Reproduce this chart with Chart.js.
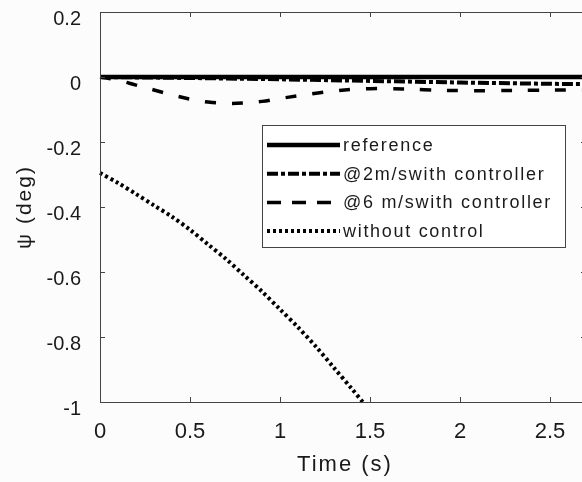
<!DOCTYPE html>
<html>
<head>
<meta charset="utf-8">
<script src="https://cdn.jsdelivr.net/npm/chart.js@4/dist/chart.umd.min.js"></script>
<style>
  html, body { margin: 0; padding: 0; background: #fcfcfc; overflow: hidden; }
  #wrap { width: 582px; height: 482px; overflow: hidden; }
  #box { width: 592px; height: 482px; }
</style>
</head>
<body>
<div id="wrap"><div id="box"><canvas id="psi"></canvas></div></div>
<script>
// time (s) and psi (deg)
const timeRef = [0, 2.7]
const psiRef = [0, 0]

const time2 = [0, 0.5, 1.0, 1.5, 2.0, 2.5, 2.7]
const psi2 = [0, -0.003, -0.007, -0.012, -0.017, -0.021, -0.022]

const time6 = [0, 0.1, 0.2, 0.3, 0.4, 0.5, 0.6, 0.7, 0.8, 0.9, 1.0, 1.1, 1.2, 1.3, 1.4, 1.5, 1.6, 1.8, 2.0, 2.2, 2.4, 2.6, 2.7]
const psi6 = [0, -0.01, -0.025, -0.04, -0.055, -0.068, -0.077, -0.081, -0.08, -0.075, -0.066, -0.058, -0.05, -0.043, -0.038, -0.036, -0.036, -0.039, -0.042, -0.042, -0.041, -0.04, -0.04]

const timeNo = [0, 0.1, 0.2, 0.3, 0.4, 0.5, 0.6, 0.7, 0.8, 0.9, 1.0, 1.1, 1.2, 1.3, 1.4, 1.46]
const psiNo = [-0.295, -0.326, -0.36, -0.395, -0.43, -0.47, -0.515, -0.56, -0.61, -0.66, -0.715, -0.77, -0.83, -0.895, -0.96, -1.0]

const xTicks = [0, 0.5, 1, 1.5, 2, 2.5]
const yTicks = [0.2, 0, -0.2, -0.4, -0.6, -0.8, -1]

const xTitle = 'Time (s)'
const yTitle = 'ψ (deg)'

const pts = (xs, ys) => xs.map((x, i) => ({ x: x, y: ys[i] }))

const FONT = '"Liberation Sans", Arial, sans-serif'
const INK = '#1a1a1a'
const AXIS = '#444'

// matlab style box + inward ticks
const frame = {
  id: 'frame',
  afterDatasetsDraw(chart) {
    const { ctx, chartArea: a, scales } = chart
    ctx.save()
    ctx.strokeStyle = AXIS
    ctx.lineWidth = 1
    ctx.strokeRect(a.left + 0.5, a.top + 0.5, a.right - a.left, a.bottom - a.top)
    ctx.beginPath()
    xTicks.forEach(v => {
      const px = Math.round(scales.x.getPixelForValue(v)) + 0.5
      ctx.moveTo(px, a.bottom); ctx.lineTo(px, a.bottom - 5)
      ctx.moveTo(px, a.top); ctx.lineTo(px, a.top + 5)
    })
    yTicks.forEach(v => {
      const py = Math.round(scales.y.getPixelForValue(v)) + 0.5
      ctx.moveTo(a.left, py); ctx.lineTo(a.left + 5, py)
      ctx.moveTo(a.right, py); ctx.lineTo(a.right - 5, py)
    })
    ctx.stroke()
    ctx.restore()
  }
}

// axis titles, drawn by hand for the wide letter spacing
const titles = {
  id: 'titles',
  afterDraw(chart) {
    const { ctx, chartArea: a } = chart
    ctx.save()
    ctx.fillStyle = INK
    ctx.textAlign = 'center'
    ctx.textBaseline = 'middle'
    ctx.letterSpacing = '2px'
    ctx.font = '22px ' + FONT
    ctx.fillText(xTitle, (a.left + 588) / 2 + 1, 465)
    ctx.font = '21px ' + FONT
    ctx.translate(25, (a.top + a.bottom) / 2)
    ctx.rotate(-Math.PI / 2)
    ctx.fillText(yTitle, 0, 0)
    ctx.restore()
  }
}

// legend box inside the axes
const boxLegend = {
  id: 'boxLegend',
  afterDraw(chart) {
    const ctx = chart.ctx
    const L = 262, T = 125, R = 565, B = 247
    ctx.save()
    ctx.fillStyle = '#fff'
    ctx.fillRect(L, T, R - L, B - T)
    ctx.strokeStyle = AXIS
    ctx.lineWidth = 1
    ctx.strokeRect(L + 0.5, T + 0.5, R - L, B - T)
    ctx.font = '18px ' + FONT
    ctx.letterSpacing = '1.7px'
    ctx.textBaseline = 'middle'
    chart.data.datasets.forEach((ds, i) => {
      const y = 145 + i * 28.7
      ctx.beginPath()
      ctx.setLineDash(ds.legendDash || ds.borderDash || [])
      ctx.lineWidth = ds.borderWidth
      ctx.strokeStyle = ds.borderColor
      ctx.moveTo(267, y); ctx.lineTo(340, y)
      ctx.stroke()
      ctx.setLineDash([])
      ctx.fillStyle = INK
      ctx.fillText(ds.label, 343, y + 1)
    })
    ctx.restore()
  }
}

const psi = document.getElementById('psi')

new Chart(psi, {
  type: 'line',
  data: {
    datasets: [{
      label: 'reference',
      data: pts(timeRef, psiRef),
      borderColor: '#000',
      borderWidth: 4.5
    }, {
      label: '@2m/swith controller',
      data: pts(time2, psi2),
      borderColor: '#000',
      borderWidth: 4,
      borderDash: [11, 3, 4, 3]
    }, {
      label: '@6 m/swith controller',
      data: pts(time6, psi6),
      borderColor: '#000',
      borderWidth: 3.5,
      borderDash: [11, 16],
      legendDash: [14, 11],
      tension: 0.4
    }, {
      label: 'without control',
      data: pts(timeNo, psiNo),
      borderColor: '#000',
      borderWidth: 4,
      borderDash: [3, 3],
      tension: 0.3
    }]
  },
  options: {
    responsive: true,
    maintainAspectRatio: false,
    animation: false,
    events: [],
    clip: false,
    elements: { point: { radius: 0 } },
    layout: { padding: { top: 12, right: 6, left: 0, bottom: 0 } },
    plugins: { legend: { display: false }, tooltip: { enabled: false } },
    scales: {
      x: {
        type: 'linear',
        min: 0,
        max: 2.7,
        afterFit: s => { s.height = 80; s.paddingLeft = 0; s.paddingRight = 0 },
        afterBuildTicks: s => { s.ticks = xTicks.map(v => ({ value: v })) },
        grid: { display: false },
        border: { display: false },
        ticks: {
          color: INK,
          font: { family: FONT, size: 22 },
          padding: 9,
          maxRotation: 0,
          callback: v => String(v)
        }
      },
      y: {
        min: -1,
        max: 0.2,
        afterFit: s => { s.width = 100; s.paddingTop = 0; s.paddingBottom = 0 },
        afterBuildTicks: s => { s.ticks = yTicks.map(v => ({ value: v })) },
        grid: { display: false },
        border: { display: false },
        ticks: {
          color: INK,
          font: { family: FONT, size: 20 },
          padding: 11,
          labelOffset: 7,
          callback: v => String(Math.round(v * 10) / 10)
        }
      }
    }
  },
  plugins: [frame, titles, boxLegend]
});
</script>
</body>
</html>
